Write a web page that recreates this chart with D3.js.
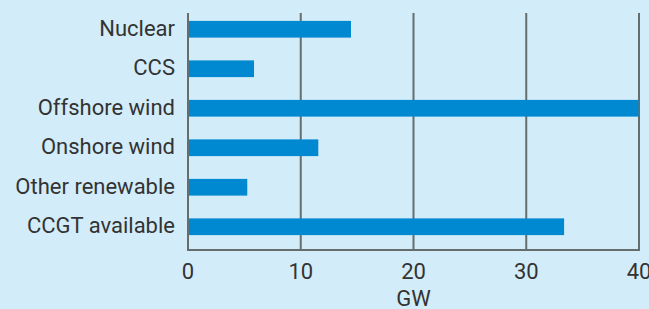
<!DOCTYPE html>
<html><head><meta charset="utf-8">
<script src="https://cdn.jsdelivr.net/npm/d3@7"></script>
<style>
html,body{margin:0;padding:0;background:#d2ecf9;}
svg{display:block;}
text{font-family:Roboto,"Noto Sans",sans-serif;fill:#333;}
</style></head>
<body>
<script>
const categories = ["Nuclear","CCS","Offshore wind","Onshore wind","Other renewable","CCGT available"];
const values = [14.5, 5.9, 40, 11.6, 5.3, 33.4];
const xTicks = [0,10,20,30,40];
const xLabel = "GW";

const W = 649, H = 309;
const svg = d3.select("body").append("svg").attr("width", W).attr("height", H);
svg.append("rect").attr("width", W).attr("height", H).attr("fill", "#d2ecf9");

const x = d3.scaleLinear().domain([0,40]).range([188, 639]);
const y = d3.scaleBand().domain(categories).range([9.5, 246.5]).paddingInner(0.577).paddingOuter(0.2885);

// grid lines
svg.append("g").selectAll("line").data(xTicks).join("line")
  .attr("x1", d => x(d)).attr("x2", d => x(d))
  .attr("y1", 13).attr("y2", 250)
  .attr("stroke", "#646e6e").attr("stroke-width", 2);
// baseline
svg.append("line").attr("x1", x(0)-1).attr("x2", x(40)+1).attr("y1", 250).attr("y2", 250)
  .attr("stroke", "#646e6e").attr("stroke-width", 2);

// bars
svg.append("g").selectAll("rect").data(values).join("rect")
  .attr("x", x(0)+1).attr("y", (d,i) => y(categories[i]))
  .attr("width", d => Math.max(0, x(d) - x(0) - 1.5)).attr("height", y.bandwidth())
  .attr("fill", "#0088d1");

// category labels
svg.append("g").selectAll("text").data(categories).join("text")
  .attr("x", 175).attr("y", d => y(d) + y.bandwidth()/2 - 1)
  .attr("text-anchor", "end").attr("dominant-baseline", "central")
  .attr("font-size", 22).attr("font-weight", 400).attr("textLength", null).text(d => d);

// tick labels
svg.append("g").selectAll("text").data(xTicks).join("text")
  .attr("x", d => x(d)).attr("y", 271)
  .attr("text-anchor", "middle").attr("dominant-baseline", "central")
  .attr("font-size", 22).attr("font-weight", 400).text(d => d);

svg.append("text").attr("x", x(20)).attr("y", 298)
  .attr("text-anchor", "middle").attr("dominant-baseline", "central")
  .attr("font-size", 22).attr("font-weight", 400).text(xLabel);
</script>
</body></html>
